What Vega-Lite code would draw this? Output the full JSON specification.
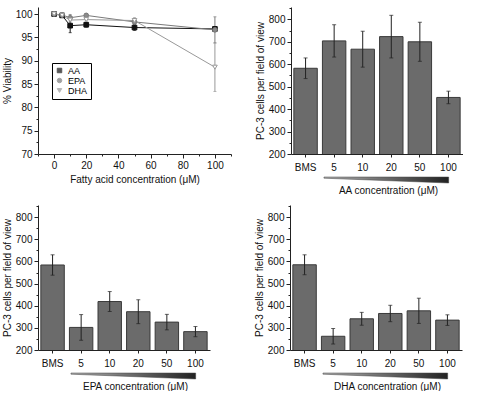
{
  "$schema": "https://vega.github.io/schema/vega-lite/v6.json",
  "padding": {"left": 2, "top": 3, "right": 0, "bottom": 0},
  "background": "white",
  "config": {
    "font": "Liberation Sans",
    "view": {"stroke": null},
    "axis": {
      "labelFont": "Liberation Sans", "titleFont": "Liberation Sans",
      "labelFontSize": 10, "titleFontSize": 10, "titleFontWeight": "normal",
      "labelColor": "#111", "titleColor": "#111",
      "domainColor": "#222", "tickColor": "#222", "grid": false,
      "labelPadding": 2, "titlePadding": 3, "labelOverlap": false
    },
    "legend": {
      "orient": "none", "legendX": 14, "legendY": 56,
      "strokeColor": "#000", "padding": 3, "labelFontSize": 9,
      "labelFont": "Liberation Sans", "symbolSize": 20, "rowPadding": 0,
      "symbolStrokeWidth": 1, "labelOffset": 4, "fillColor": "white"
    }
  },
  "datasets": {
    "viability": [
      {"acid": "AA", "conc": 0, "viab": 100, "err": 0.2},
      {"acid": "AA", "conc": 5, "viab": 99.7, "err": 0.3},
      {"acid": "AA", "conc": 10, "viab": 97.5, "err": 1.5},
      {"acid": "AA", "conc": 20, "viab": 97.7, "err": 0.5},
      {"acid": "AA", "conc": 50, "viab": 97.1, "err": 0.6},
      {"acid": "AA", "conc": 100, "viab": 96.8, "err": 0.5},
      {"acid": "EPA", "conc": 0, "viab": 100, "err": 0.1},
      {"acid": "EPA", "conc": 5, "viab": 99.8, "err": 0.2},
      {"acid": "EPA", "conc": 10, "viab": 99.2, "err": 0.7},
      {"acid": "EPA", "conc": 20, "viab": 99.7, "err": 0.4},
      {"acid": "EPA", "conc": 50, "viab": 98.3, "err": 0.7},
      {"acid": "EPA", "conc": 100, "viab": 96.6, "err": 2.8},
      {"acid": "DHA", "conc": 0, "viab": 100, "err": 0.1},
      {"acid": "DHA", "conc": 5, "viab": 99.7, "err": 0.2},
      {"acid": "DHA", "conc": 10, "viab": 98.7, "err": 0.6},
      {"acid": "DHA", "conc": 20, "viab": 98.8, "err": 0.3},
      {"acid": "DHA", "conc": 50, "viab": 98.6, "err": 0.6},
      {"acid": "DHA", "conc": 100, "viab": 88.6, "err": 5.2}
    ],
    "aa": [
      {"group": "BMS", "mean": 582, "err": 46},
      {"group": "5", "mean": 704, "err": 72},
      {"group": "10", "mean": 667, "err": 80},
      {"group": "20", "mean": 723, "err": 95},
      {"group": "50", "mean": 700, "err": 87},
      {"group": "100", "mean": 452, "err": 28}
    ],
    "epa": [
      {"group": "BMS", "mean": 584, "err": 46},
      {"group": "5", "mean": 302, "err": 58},
      {"group": "10", "mean": 419, "err": 45},
      {"group": "20", "mean": 373, "err": 54},
      {"group": "50", "mean": 326, "err": 35},
      {"group": "100", "mean": 283, "err": 23}
    ],
    "dha": [
      {"group": "BMS", "mean": 585, "err": 45},
      {"group": "5", "mean": 262, "err": 35},
      {"group": "10", "mean": 341, "err": 29},
      {"group": "20", "mean": 365, "err": 37},
      {"group": "50", "mean": 377, "err": 57},
      {"group": "100", "mean": 335, "err": 24}
    ],
    "wedge": [
      {"p": 1.15, "top": 1, "bot": 0.8},
      {"p": 5.5, "top": 1, "bot": 0}
    ]
  },
  "spacing": 6,
  "vconcat": [
    {
      "spacing": 23,
      "hconcat": [
        {
          "width": 193, "height": 147,
          "data": {"name": "viability"},
          "encoding": {
            "x": {"field": "conc", "type": "quantitative",
              "scale": {"domain": [-10, 110], "nice": false},
              "axis": {"title": "Fatty acid concentration (μM)",
                "values": [-10, 0, 10, 20, 30, 40, 50, 60, 70, 80, 90, 100, 110],
                "labelExpr": "datum.value % 20 === 0 ? datum.label : ''",
                "labelOverlap": false,
                "tickSize": {"condition": {"test": "datum.value % 20 === 0", "value": 4}, "value": 2},
                "titlePadding": 4}},
            "y": {"field": "viab", "type": "quantitative",
              "scale": {"domain": [70, 101.5], "nice": false, "zero": false},
              "axis": {"title": "% Viability",
                "values": [70, 72.5, 75, 77.5, 80, 82.5, 85, 87.5, 90, 92.5, 95, 97.5, 100],
                "labelExpr": "datum.value % 5 === 0 ? datum.label : ''",
                "labelOverlap": false,
                "tickSize": {"condition": {"test": "datum.value % 5 === 0", "value": 4}, "value": 2}}},
            "color": {"field": "acid", "type": "nominal", "title": null,
              "scale": {"domain": ["AA", "EPA", "DHA"], "range": ["#111111", "#7a7a7a", "#999999"]}}
          },
          "layer": [
            {"mark": {"type": "errorbar", "ticks": {"size": 3}, "thickness": 1},
             "encoding": {"yError": {"field": "err"}}},
            {"mark": {"type": "line", "strokeWidth": 1}},
            {"mark": {"type": "point", "filled": false, "size": 22, "strokeWidth": 1, "opacity": 1},
             "encoding": {
               "shape": {"field": "acid", "type": "nominal", "title": null,
                 "scale": {"domain": ["AA", "EPA", "DHA"], "range": ["square", "circle", "triangle-down"]}},
               "fill": {"field": "acid", "type": "nominal", "title": null,
                 "scale": {"domain": ["AA", "EPA", "DHA"], "range": ["#111111", "#8a8a8a", "#ffffff"]}}
             }}
          ]
        },
        {
          "bounds": "flush",
          "spacing": 23,
          "vconcat": [
            {
              "width": 172, "height": 147,
              "data": {"name": "aa"},
              "encoding": {
                "x": {"field": "group", "type": "nominal", "sort": null,
                  "scale": {"paddingInner": 0.18, "paddingOuter": 0.1},
                  "axis": {"title": null, "labelAngle": 0, "tickSize": 3, "labelPadding": 5}},
                "y": {"field": "mean", "type": "quantitative",
                  "scale": {"domain": [200, 855], "nice": false, "zero": false},
                  "axis": {"title": "PC-3 cells per field of view",
                    "values": [200, 250, 300, 350, 400, 450, 500, 550, 600, 650, 700, 750, 800, 850],
                    "labelExpr": "datum.value % 100 === 0 ? datum.label : ''",
                    "labelOverlap": false,
                    "tickSize": {"condition": {"test": "datum.value % 100 === 0", "value": 4}, "value": 2}}}
              },
              "layer": [
                {"mark": {"type": "bar", "fill": "#6b6b6b", "stroke": "#3a3a3a", "strokeWidth": 1, "clip": true}},
                {"mark": {"type": "errorbar", "ticks": {"size": 4}, "color": "#222", "thickness": 1},
                 "encoding": {"yError": {"field": "err"}}}
              ]
            },
            {
              "width": 172, "height": 6,
              "data": {"name": "wedge"},
              "mark": {"type": "area", "stroke": "#444", "strokeWidth": 0.5,
                "color": {"gradient": "linear", "x1": 0, "x2": 1, "y1": 0, "y2": 0,
                  "stops": [{"offset": 0, "color": "#b0b0b0"}, {"offset": 1, "color": "#222222"}]}},
              "encoding": {
                "x": {"field": "p", "type": "quantitative", "scale": {"domain": [0, 6], "nice": false},
                  "axis": {"title": "AA concentration (μM)", "domain": false, "ticks": false, "labels": false, "titleX": 97, "titlePadding": 2}},
                "y": {"field": "top", "type": "quantitative", "scale": {"domain": [0, 1]}, "axis": null},
                "y2": {"field": "bot"}
              }
            }
          ]
        }
      ]
    },
    {
      "spacing": 44,
      "hconcat": [
        {
          "bounds": "flush",
          "spacing": 23,
          "vconcat": [
            {
              "width": 172, "height": 145,
              "data": {"name": "epa"},
              "encoding": {
                "x": {"field": "group", "type": "nominal", "sort": null,
                  "scale": {"paddingInner": 0.18, "paddingOuter": 0.1},
                  "axis": {"title": null, "labelAngle": 0, "tickSize": 3, "labelPadding": 5}},
                "y": {"field": "mean", "type": "quantitative",
                  "scale": {"domain": [200, 855], "nice": false, "zero": false},
                  "axis": {"title": "PC-3 cells per field of view",
                    "values": [200, 250, 300, 350, 400, 450, 500, 550, 600, 650, 700, 750, 800, 850],
                    "labelExpr": "datum.value % 100 === 0 ? datum.label : ''",
                    "labelOverlap": false,
                    "tickSize": {"condition": {"test": "datum.value % 100 === 0", "value": 4}, "value": 2}}}
              },
              "layer": [
                {"mark": {"type": "bar", "fill": "#6b6b6b", "stroke": "#3a3a3a", "strokeWidth": 1, "clip": true}},
                {"mark": {"type": "errorbar", "ticks": {"size": 4}, "color": "#222", "thickness": 1},
                 "encoding": {"yError": {"field": "err"}}}
              ]
            },
            {
              "width": 172, "height": 6,
              "data": {"name": "wedge"},
              "mark": {"type": "area", "stroke": "#444", "strokeWidth": 0.5,
                "color": {"gradient": "linear", "x1": 0, "x2": 1, "y1": 0, "y2": 0,
                  "stops": [{"offset": 0, "color": "#b0b0b0"}, {"offset": 1, "color": "#222222"}]}},
              "encoding": {
                "x": {"field": "p", "type": "quantitative", "scale": {"domain": [0, 6], "nice": false},
                  "axis": {"title": "EPA concentration (μM)", "domain": false, "ticks": false, "labels": false, "titleX": 97, "titlePadding": 2}},
                "y": {"field": "top", "type": "quantitative", "scale": {"domain": [0, 1]}, "axis": null},
                "y2": {"field": "bot"}
              }
            }
          ]
        },
        {
          "bounds": "flush",
          "spacing": 23,
          "vconcat": [
            {
              "width": 172, "height": 145,
              "data": {"name": "dha"},
              "encoding": {
                "x": {"field": "group", "type": "nominal", "sort": null,
                  "scale": {"paddingInner": 0.18, "paddingOuter": 0.1},
                  "axis": {"title": null, "labelAngle": 0, "tickSize": 3, "labelPadding": 5}},
                "y": {"field": "mean", "type": "quantitative",
                  "scale": {"domain": [200, 855], "nice": false, "zero": false},
                  "axis": {"title": "PC-3 cells per field of view",
                    "values": [200, 250, 300, 350, 400, 450, 500, 550, 600, 650, 700, 750, 800, 850],
                    "labelExpr": "datum.value % 100 === 0 ? datum.label : ''",
                    "labelOverlap": false,
                    "tickSize": {"condition": {"test": "datum.value % 100 === 0", "value": 4}, "value": 2}}}
              },
              "layer": [
                {"mark": {"type": "bar", "fill": "#6b6b6b", "stroke": "#3a3a3a", "strokeWidth": 1, "clip": true}},
                {"mark": {"type": "errorbar", "ticks": {"size": 4}, "color": "#222", "thickness": 1},
                 "encoding": {"yError": {"field": "err"}}}
              ]
            },
            {
              "width": 172, "height": 6,
              "data": {"name": "wedge"},
              "mark": {"type": "area", "stroke": "#444", "strokeWidth": 0.5,
                "color": {"gradient": "linear", "x1": 0, "x2": 1, "y1": 0, "y2": 0,
                  "stops": [{"offset": 0, "color": "#b0b0b0"}, {"offset": 1, "color": "#222222"}]}},
              "encoding": {
                "x": {"field": "p", "type": "quantitative", "scale": {"domain": [0, 6], "nice": false},
                  "axis": {"title": "DHA concentration (μM)", "domain": false, "ticks": false, "labels": false, "titleX": 97, "titlePadding": 2}},
                "y": {"field": "top", "type": "quantitative", "scale": {"domain": [0, 1]}, "axis": null},
                "y2": {"field": "bot"}
              }
            }
          ]
        }
      ]
    }
  ]
}
